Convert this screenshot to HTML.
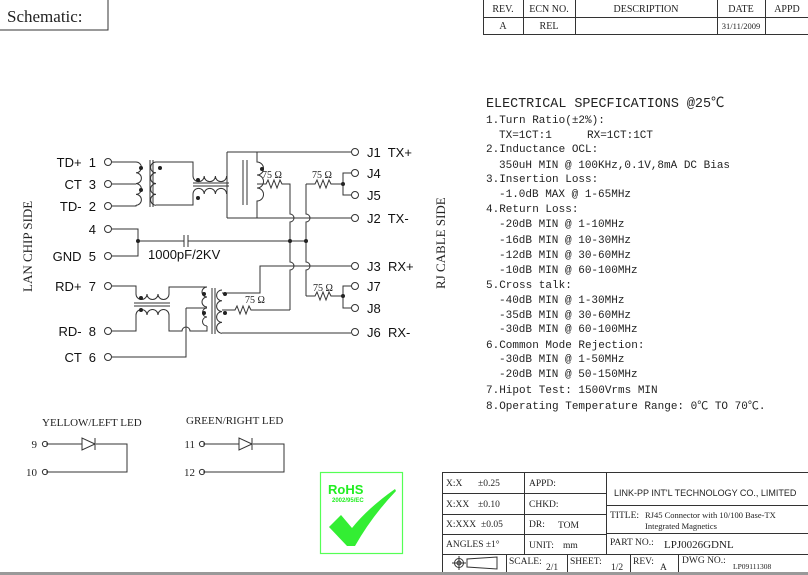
<!DOCTYPE html>
<html><head><meta charset="utf-8"><style>
html,body{margin:0;padding:0;background:#fff;}
svg{display:block;}
text{white-space:pre;}
.s{font-family:"Liberation Mono","Noto Sans CJK SC",monospace;font-size:11px;fill:#222;}
.a{font-family:"Liberation Sans",sans-serif;font-size:13px;fill:#111;}
.sr{font-family:"Liberation Serif","Noto Serif CJK SC",serif;fill:#222;}
</style></head><body>
<svg width="808" height="575" viewBox="0 0 808 575" xmlns="http://www.w3.org/2000/svg">
<rect x="0" y="0" width="808" height="575" fill="#fff"/>
<rect x="-1" y="-1" width="109" height="31" fill="none" stroke="#333" stroke-width="1"/>
<text x="7" y="22" class="sr" font-size="17">Schematic:</text>

<g stroke="#333" stroke-width="1" fill="none">
<rect x="483.5" y="-1" width="330" height="35.5"/>
<line x1="483" y1="17.5" x2="808" y2="17.5"/>
<line x1="523.5" y1="0" x2="523.5" y2="34"/>
<line x1="575.5" y1="0" x2="575.5" y2="34"/>
<line x1="717.5" y1="0" x2="717.5" y2="34"/>
<line x1="765.5" y1="0" x2="765.5" y2="34"/>
</g>
<g class="sr" font-size="10" text-anchor="middle">
<text x="503" y="12">REV.</text><text x="549" y="12">ECN NO.</text><text x="646" y="12">DESCRIPTION</text><text x="741" y="12">DATE</text><text x="787" y="12">APPD</text>
<text x="503" y="29">A</text><text x="549" y="29">REL</text><text x="741" y="29" font-size="8.5">31/11/2009</text>
</g>

<g class="s">
<text x="486" y="107" font-size="13.4">ELECTRICAL SPECFICATIONS @25℃</text>
<text x="486" y="123">1.Turn Ratio(±2%):</text>
<text x="499" y="138">TX=1CT:1</text><text x="587" y="138">RX=1CT:1CT</text>
<text x="486" y="152">2.Inductance OCL:</text>
<text x="499" y="168">350uH MIN @ 100KHz,0.1V,8mA DC Bias</text>
<text x="486" y="182">3.Insertion Loss:</text>
<text x="499" y="197">-1.0dB MAX @ 1-65MHz</text>
<text x="486" y="212">4.Return Loss:</text>
<text x="499" y="227">-20dB MIN @ 1-10MHz</text>
<text x="499" y="243">-16dB MIN @ 10-30MHz</text>
<text x="499" y="258">-12dB MIN @ 30-60MHz</text>
<text x="499" y="273">-10dB MIN @ 60-100MHz</text>
<text x="486" y="288">5.Cross talk:</text>
<text x="499" y="303">-40dB MIN @ 1-30MHz</text>
<text x="499" y="318">-35dB MIN @ 30-60MHz</text>
<text x="499" y="332">-30dB MIN @ 60-100MHz</text>
<text x="486" y="348">6.Common Mode Rejection:</text>
<text x="499" y="362">-30dB MIN @ 1-50MHz</text>
<text x="499" y="377">-20dB MIN @ 50-150MHz</text>
<text x="486" y="393">7.Hipot Test: 1500Vrms MIN</text>
<text x="486" y="409">8.Operating Temperature Range: 0℃ TO 70℃.</text>
</g>

<text class="sr" font-size="13" transform="translate(32,292) rotate(-90)">LAN CHIP SIDE</text>
<text class="sr" font-size="13" transform="translate(445,289) rotate(-90)">RJ CABLE SIDE</text>

<g class="a" text-anchor="end">
<text x="96" y="167">TD+  1</text>
<text x="96" y="189">CT  3</text>
<text x="96" y="211">TD-  2</text>
<text x="96" y="234">4</text>
<text x="96" y="261">GND  5</text>
<text x="96" y="291">RD+  7</text>
<text x="96" y="336">RD-  8</text>
<text x="96" y="362">CT  6</text>
</g>
<g class="a">
<text x="367" y="157">J1  TX+</text>
<text x="367" y="178">J4</text>
<text x="367" y="200">J5</text>
<text x="367" y="223">J2  TX-</text>
<text x="367" y="271">J3  RX+</text>
<text x="367" y="291">J7</text>
<text x="367" y="313">J8</text>
<text x="367" y="337">J6  RX-</text>
</g>

<g fill="none" stroke="#333" stroke-width="1">
<circle cx="108" cy="162" r="3.5"/><circle cx="108" cy="184" r="3.5"/><circle cx="108" cy="206" r="3.5"/>
<circle cx="108" cy="229" r="3.5"/><circle cx="108" cy="256" r="3.5"/><circle cx="108" cy="286" r="3.5"/>
<circle cx="108" cy="331" r="3.5"/><circle cx="108" cy="357" r="3.5"/>
<circle cx="355" cy="152" r="3.5"/><circle cx="355" cy="173" r="3.5"/><circle cx="355" cy="195" r="3.5"/>
<circle cx="355" cy="218" r="3.5"/><circle cx="355" cy="266" r="3.5"/><circle cx="355" cy="286" r="3.5"/>
<circle cx="355" cy="308" r="3.5"/><circle cx="355" cy="332" r="3.5"/>

<path d="M112,162H136"/><path d="M112,184H136"/><path d="M112,206H136V205"/>
<path d="M136,162a5.4,5.4 0 0 1 0,10.8a5.4,5.4 0 0 1 0,10.8a5.4,5.4 0 0 1 0,10.8a5.4,5.4 0 0 1 0,10.8"/>
<path d="M150,160V207M153,160V207"/>
<path d="M156,162a5.4,5.4 0 0 0 0,10.8a5.4,5.4 0 0 0 0,10.8a5.4,5.4 0 0 0 0,10.8a5.4,5.4 0 0 0 0,10.8"/>
<path d="M156,162H193V176"/>
<path d="M193,176a5.6,5.6 0 0 0 11.2,0a5.6,5.6 0 0 0 11.2,0a5.6,5.6 0 0 0 11.2,0"/>
<path d="M193,183H229M193,186H229"/>
<path d="M156,205H193V194"/>
<path d="M193,194a5.6,5.6 0 0 1 11.2,0a5.6,5.6 0 0 1 11.2,0a5.6,5.6 0 0 1 11.2,0"/>
<path d="M227,152V218"/>
<path d="M227,152H351M227,218H351"/>
<path d="M243,160V205M247,160V205"/>
<path d="M257,152V162a6.5,6.5 0 0 1 0,13a6.5,6.5 0 0 1 0,13a6.5,6.5 0 0 1 0,13V218"/>
<path d="M257,184H266l2,-4l3,8l3,-8l3,8l3,-8l2,4H290V214a4,4 0 0 1 0,8V262a4,4 0 0 1 0,8V310"/>
<path d="M306,184V214a4,4 0 0 1 0,8V262a4,4 0 0 1 0,8V296"/>
<path d="M306,184H315l2,-4l3,8l3,-8l3,8l3,-8l2,4H343"/>
<path d="M351,173H343V195H351"/>
<path d="M112,229H138V256H112"/>
<path d="M138,241H184M188,241H306"/>
<path d="M184,235V247M188,235V247"/>
<path d="M351,266H260V293H222"/>
<path d="M222,290a5.4,5.4 0 0 0 0,10.8a5.4,5.4 0 0 0 0,10.8a5.4,5.4 0 0 0 0,10.8a5.4,5.4 0 0 0 0,10.8"/>
<path d="M212,288V334M215,288V334"/>
<path d="M222,333H351"/>
<path d="M222,310H235l2,-4l3,8l3,-8l3,8l3,-8l2,4H290"/>
<path d="M306,296H315l2,-4l3,8l3,-8l3,8l3,-8l2,4H343"/>
<path d="M351,286H343V308H351"/>
<path d="M112,286H136V294"/>
<path d="M136,294a5.5,5.5 0 0 0 11,0a5.5,5.5 0 0 0 11,0a5.5,5.5 0 0 0 11,0V287H207"/>
<path d="M134,303H170M134,306H170"/>
<path d="M112,331H136V315"/>
<path d="M136,315a5.5,5.5 0 0 1 11,0a5.5,5.5 0 0 1 11,0a5.5,5.5 0 0 1 11,0V331H182a4,4 0 0 1 8,0H207V326"/>
<path d="M207,287a5,5 0 0 0 0,10a5,5 0 0 0 0,10"/>
<path d="M207,308a4.5,4.5 0 0 0 0,9a4.5,4.5 0 0 0 0,9"/>
<path d="M186,308H207M186,308V357H112"/>
<path d="M46,444H82M96,444H127V472H46"/>
<path d="M82,438V450L95,444Z"/><path d="M95,438V450"/>
<path d="M203,444H239M253,444H284V472H203"/>
<path d="M239,438V450L252,444Z"/><path d="M252,438V450"/>
<circle cx="45" cy="444" r="2.6"/><circle cx="45" cy="472" r="2.6"/>
<circle cx="202" cy="444" r="2.6"/><circle cx="202" cy="472" r="2.6"/>
</g>
<g fill="#222">
<circle cx="141" cy="168" r="2"/><circle cx="141" cy="190" r="2"/><circle cx="160" cy="168" r="2"/>
<circle cx="198" cy="180" r="2"/><circle cx="198" cy="198" r="2"/><circle cx="262" cy="169" r="2"/>
<circle cx="343" cy="184" r="2"/><circle cx="138" cy="241" r="2"/><circle cx="290" cy="241" r="2"/>
<circle cx="306" cy="241" r="2"/><circle cx="343" cy="296" r="2"/>
<circle cx="141" cy="298" r="2"/><circle cx="141" cy="310" r="2"/>
<circle cx="204" cy="294" r="2"/><circle cx="204" cy="313" r="2"/>
<circle cx="225" cy="294" r="2"/><circle cx="225" cy="313" r="2"/>
</g>
<g class="sr" font-size="10">
<text x="262" y="178">75 Ω</text><text x="312" y="178">75 Ω</text>
<text x="245" y="303">75 Ω</text><text x="313" y="291">75 Ω</text>
</g>
<text x="148" y="259" class="a" font-size="9.5">1000pF/2KV</text>
<g class="sr" font-size="11">
<text x="42" y="426">YELLOW/LEFT LED</text>
<text x="186" y="424">GREEN/RIGHT LED</text>
<text x="37" y="448" text-anchor="end">9</text>
<text x="37" y="476" text-anchor="end">10</text>
<text x="195" y="448" text-anchor="end">11</text>
<text x="195" y="476" text-anchor="end">12</text>
</g>

<rect x="320.5" y="472.5" width="82" height="81" fill="none" stroke="#5f5" stroke-width="1.2"/>
<text x="328" y="494" font-family="Liberation Sans,sans-serif" font-weight="bold" font-size="13" fill="#2e2">RoHS</text>
<text x="332" y="502" font-family="Liberation Sans,sans-serif" font-weight="bold" font-size="6" fill="#2e2">2002/95/EC</text>
<path d="M329,527L341,515L352,528Q368,508 395,489L396,491Q372,516 355,546L347,546Z" fill="#3e3"/>

<g stroke="#333" stroke-width="1" fill="none">
<rect x="442.5" y="472.5" width="370" height="100"/>
<line x1="442" y1="493.5" x2="606" y2="493.5"/>
<line x1="442" y1="514.5" x2="606" y2="514.5"/>
<line x1="442" y1="534.5" x2="606" y2="534.5"/>
<line x1="442" y1="554.5" x2="808" y2="554.5"/>
<line x1="606" y1="505.5" x2="808" y2="505.5"/>
<line x1="606" y1="533.5" x2="808" y2="533.5"/>
<line x1="524.5" y1="472" x2="524.5" y2="554"/>
<line x1="606.5" y1="472" x2="606.5" y2="554"/>
<line x1="506.5" y1="554" x2="506.5" y2="573"/>
<line x1="567.5" y1="554" x2="567.5" y2="573"/>
<line x1="630.5" y1="554" x2="630.5" y2="573"/>
<line x1="678.5" y1="554" x2="678.5" y2="573"/>
<circle cx="459" cy="563" r="4.5"/><circle cx="459" cy="563" r="2"/>
<path d="M452,563H466M459,556V570M467,559V567L497,569V557Z"/>
</g>
<line x1="0" y1="573.5" x2="808" y2="573.5" stroke="#999" stroke-width="3"/>
<g class="sr" font-size="9.5">
<text x="446" y="486">X:X</text><text x="478" y="486">±0.25</text>
<text x="446" y="507">X:XX</text><text x="478" y="507">±0.10</text>
<text x="446" y="527">X:XXX</text><text x="481" y="527">±0.05</text>
<text x="446" y="547">ANGLES ±1°</text>
<text x="529" y="486">APPD:</text>
<text x="529" y="507">CHKD:</text>
<text x="529" y="527">DR:</text><text x="558" y="528">TOM</text>
<text x="529" y="548">UNIT:</text><text x="563" y="548">mm</text>
<text x="610" y="518">TITLE:</text>
<text x="645" y="518" font-size="8.5">RJ45 Connector with 10/100 Base-TX</text>
<text x="645" y="529" font-size="8.5">Integrated Magnetics</text>
<text x="610" y="545">PART NO.:</text>
<text x="664" y="548" font-size="11">LPJ0026GDNL</text>
<text x="509" y="564">SCALE:</text><text x="546" y="570">2/1</text>
<text x="570" y="564">SHEET:</text><text x="611" y="570">1/2</text>
<text x="633" y="564">REV:</text><text x="660" y="570">A</text>
<text x="682" y="563">DWG NO.:</text><text x="733" y="569" font-size="7.5">LP09111308</text>
</g>
<text x="614" y="496" font-family="Liberation Sans,sans-serif" font-size="9" fill="#222">LINK-PP INT'L TECHNOLOGY CO., LIMITED</text>
</svg>
</body></html>
